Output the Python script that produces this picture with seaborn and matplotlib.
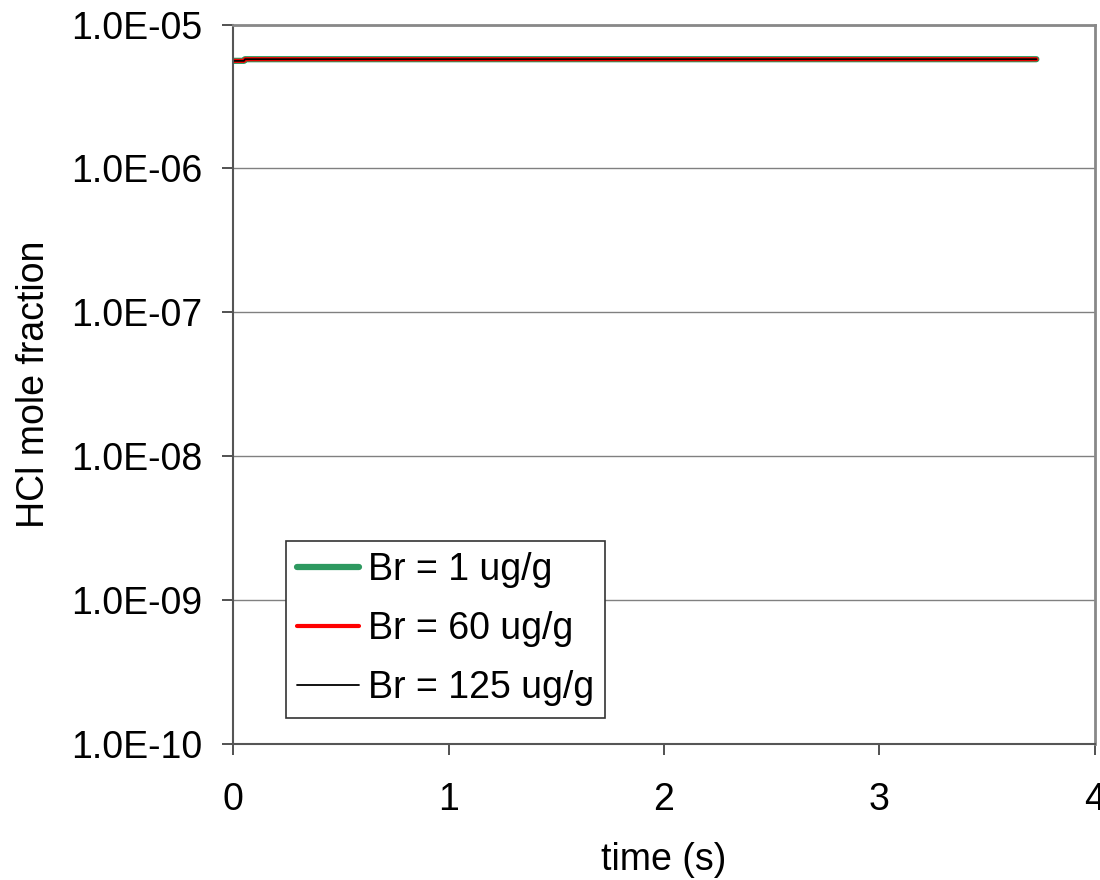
import matplotlib
matplotlib.use("Agg")
import matplotlib.pyplot as plt
import matplotlib.ticker as mticker
import seaborn as sns
import pandas as pd

# HCl mole fraction over residence time for three bromine loadings
time_s = [0.0, 0.05, 0.055, 1.0, 2.0, 3.0, 3.73]
hcl_br1 = [5.6e-6, 5.6e-6, 5.75e-6, 5.75e-6, 5.75e-6, 5.75e-6, 5.75e-6]
hcl_br60 = [5.6e-6, 5.6e-6, 5.75e-6, 5.75e-6, 5.75e-6, 5.75e-6, 5.75e-6]
hcl_br125 = [5.6e-6, 5.6e-6, 5.75e-6, 5.75e-6, 5.75e-6, 5.75e-6, 5.75e-6]
series_labels = ["Br = 1 ug/g", "Br = 60 ug/g", "Br = 125 ug/g"]
series_colors = ["#2e9960", "#ff0000", "#000000"]
series_widths = [4.5, 3.0, 1.3]

y_ticks = [1e-10, 1e-9, 1e-8, 1e-7, 1e-6, 1e-5]
y_tick_labels = ["1.0E-10", "1.0E-09", "1.0E-08", "1.0E-07", "1.0E-06", "1.0E-05"]
x_ticks = [0, 1, 2, 3, 4]

frames = []
for lab, vals in zip(series_labels, [hcl_br1, hcl_br60, hcl_br125]):
    frames.append(pd.DataFrame({"time": time_s, "hcl": vals, "series": lab}))
df = pd.concat(frames, ignore_index=True)

sns.set_style("white")
plt.rcParams["font.family"] = ["Liberation Sans", "DejaVu Sans"]
plt.rcParams["text.color"] = "black"
plt.rcParams["axes.labelcolor"] = "black"
plt.rcParams["xtick.color"] = "black"
plt.rcParams["ytick.color"] = "black"

FS = 27

fig = plt.figure(figsize=(11, 8.8), dpi=100)
ax = fig.add_axes([0.212, 0.155, 0.783, 0.817])

for lab, col, lw in zip(series_labels, series_colors, series_widths):
    sub = df[df["series"] == lab]
    sns.lineplot(data=sub, x="time", y="hcl", ax=ax, color=col, linewidth=lw,
                 label=lab, solid_capstyle="round")

ax.set_yscale("log")
ax.set_ylim(1e-10, 1e-5)
ax.set_xlim(0, 4)
ax.yaxis.set_major_locator(mticker.FixedLocator(y_ticks))
ax.yaxis.set_minor_locator(mticker.NullLocator())
ax.set_yticks(y_ticks)
ax.set_yticklabels(y_tick_labels)
ax.set_xticks(x_ticks)
ax.set_xticklabels([str(v) for v in x_ticks])

ax.grid(axis="y", color="#808080", linewidth=1.0)
ax.grid(axis="x", visible=False)
ax.set_axisbelow(True)

for side in ["left", "bottom"]:
    ax.spines[side].set_color("#555555")
    ax.spines[side].set_linewidth(1.5)
for side in ["top", "right"]:
    ax.spines[side].set_color("#888888")
    ax.spines[side].set_linewidth(2.0)

ax.tick_params(axis="both", which="major", direction="out", length=8, width=1.2,
               color="#333333", labelsize=FS, labelcolor="black",
               left=True, bottom=True)
ax.tick_params(axis="y", pad=14)
ax.tick_params(axis="x", pad=20)

ax.set_xlabel("time (s)", fontsize=FS, labelpad=17, color="black")
ax.set_ylabel("HCl mole fraction", fontsize=FS, labelpad=14, color="black")

leg = ax.legend(loc="lower left", bbox_to_anchor=(0.0615, 0.036), fontsize=FS,
                frameon=True, fancybox=False, framealpha=1, edgecolor="#333333",
                handlelength=1.65, handletextpad=0.22, borderpad=0.3, labelspacing=0.62,
                borderaxespad=0)
leg.get_frame().set_linewidth(1.2)
for t in leg.get_texts():
    t.set_color("black")

fig.savefig("out.png", dpi=100)
